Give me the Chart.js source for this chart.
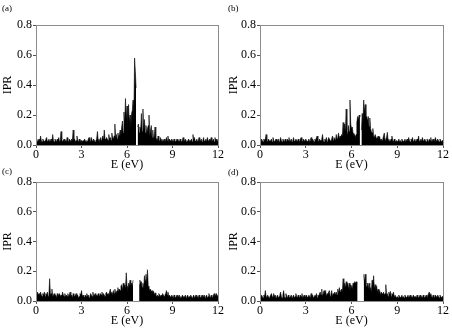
<!DOCTYPE html>
<html>
<head>
<meta charset="utf-8">
<script src="https://cdn.jsdelivr.net/npm/chart.js@4.4.0/dist/chart.umd.min.js"></script>
<style>
  body { margin: 0; background: #fff; width: 452px; height: 331px; position: relative; overflow: hidden; font-family: "Liberation Serif", "Times New Roman", serif; }
  canvas { position: absolute; }
  .tag { position: absolute; font-size: 9px; color: #000; }
</style>
</head>
<body>
<canvas id="pa" width="226" height="172" style="left:0;top:0"></canvas>
<canvas id="pb" width="226" height="172" style="left:226px;top:0"></canvas>
<canvas id="pc" width="226" height="163" style="left:0;top:165px"></canvas>
<canvas id="pd" width="226" height="163" style="left:226px;top:165px"></canvas>
<div class="tag" style="left:2px;top:3px">(a)</div>
<div class="tag" style="left:228px;top:3px">(b)</div>
<div class="tag" style="left:2px;top:166px">(c)</div>
<div class="tag" style="left:228px;top:167px">(d)</div>
<script>
// energy grid, 0 .. 12 eV in 0.05 eV steps (241 points)
const energies = [];
for (let i = 0; i <= 240; i++) energies.push(+(i * 0.05).toFixed(2));

const xTicks = [0, 3, 6, 9, 12];
const yTicks = [0.0, 0.2, 0.4, 0.6, 0.8];

// IPR values, one row per eV, null = gap
const iprA = [
  0.03,0.04,0.02,0.03,0.04,0.02,0.06,0.03,0.02,0.04,0.03,0.02,0.03,0.04,0.05,0.02,0.03,0.04,0.02,0.03,
  0.04,0.02,0.07,0.03,0.02,0.04,0.03,0.02,0.04,0.03,0.05,0.02,0.03,0.09,0.04,0.02,0.03,0.04,0.02,0.03,
  0.02,0.05,0.03,0.02,0.04,0.03,0.02,0.04,0.03,0.10,0.03,0.04,0.02,0.03,0.06,0.03,0.02,0.04,0.02,0.03,
  0.03,0.02,0.03,0.02,0.04,0.03,0.02,0.03,0.02,0.04,0.05,0.03,0.02,0.05,0.03,0.02,0.04,0.03,0.02,0.03,
  0.04,0.09,0.03,0.04,0.02,0.05,0.03,0.04,0.06,0.03,0.10,0.04,0.03,0.05,0.04,0.03,0.07,0.04,0.05,0.03,
  0.08,0.05,0.04,0.06,0.14,0.05,0.07,0.04,0.08,0.05,0.07,0.10,0.06,0.12,0.16,0.08,0.22,0.14,0.31,0.17,
  0.26,0.12,0.27,0.15,0.20,0.11,0.21,0.23,0.30,0.18,0.58,0.49,0.38,null,0.12,0.14,0.08,0.12,0.10,0.21,
  0.09,0.24,0.10,0.17,0.08,0.13,0.07,0.11,0.13,0.20,0.06,0.10,0.13,0.05,0.10,0.04,0.06,0.12,0.05,0.04,
  0.03,0.06,0.04,0.02,0.05,0.03,0.04,0.02,0.03,0.04,0.02,0.03,0.05,0.03,0.06,0.02,0.04,0.03,0.02,0.04,
  0.03,0.02,0.04,0.03,0.02,0.03,0.04,0.02,0.03,0.02,0.04,0.03,0.02,0.03,0.05,0.02,0.03,0.04,0.02,0.03,
  0.02,0.04,0.03,0.02,0.03,0.04,0.02,0.07,0.03,0.05,0.02,0.03,0.04,0.02,0.03,0.05,0.02,0.03,0.04,0.02,
  0.03,0.05,0.02,0.03,0.04,0.02,0.05,0.03,0.02,0.04,0.03,0.05,0.02,0.03,0.04,0.02,0.05,0.03,0.04,0.02,
  0.04
];
const iprB = [
  0.03,0.02,0.04,0.03,0.02,0.04,0.03,0.04,0.07,0.03,0.02,0.04,0.03,0.02,0.03,0.04,0.02,0.05,0.03,0.02,
  0.03,0.04,0.02,0.03,0.04,0.02,0.03,0.05,0.03,0.02,0.04,0.03,0.02,0.04,0.03,0.02,0.04,0.03,0.05,0.02,
  0.03,0.04,0.02,0.03,0.05,0.02,0.03,0.04,0.03,0.02,0.04,0.03,0.02,0.04,0.05,0.03,0.02,0.04,0.03,0.02,
  0.04,0.03,0.02,0.03,0.04,0.02,0.03,0.05,0.02,0.04,0.03,0.02,0.04,0.03,0.05,0.06,0.03,0.02,0.04,0.03,
  0.03,0.04,0.07,0.03,0.02,0.04,0.03,0.05,0.02,0.03,0.05,0.04,0.03,0.02,0.04,0.06,0.03,0.05,0.04,0.03,
  0.07,0.04,0.05,0.08,0.04,0.06,0.05,0.07,0.06,0.15,0.08,0.14,0.09,0.24,0.10,0.06,0.13,0.09,0.30,0.14,
  0.11,0.12,0.08,0.06,0.07,0.05,0.07,0.15,0.19,0.17,0.20,0.19,null,0.10,0.21,0.14,0.30,0.22,0.27,0.18,
  0.19,0.16,0.19,0.12,0.18,0.11,0.09,0.08,0.11,0.06,0.05,0.07,0.07,0.04,0.05,0.06,0.04,0.055,0.03,0.04,
  0.03,0.04,0.06,0.08,0.03,0.04,0.05,0.085,0.03,0.04,0.02,0.03,0.04,0.06,0.03,0.02,0.04,0.03,0.02,0.03,
  0.02,0.03,0.04,0.02,0.03,0.02,0.04,0.03,0.02,0.03,0.04,0.02,0.03,0.04,0.02,0.05,0.03,0.02,0.04,0.03,
  0.05,0.02,0.03,0.04,0.02,0.03,0.04,0.03,0.06,0.02,0.03,0.04,0.02,0.05,0.03,0.02,0.04,0.03,0.02,0.04,
  0.03,0.02,0.04,0.03,0.05,0.02,0.03,0.04,0.02,0.03,0.05,0.03,0.02,0.04,0.03,0.02,0.04,0.03,0.02,0.03,
  0.03
];
const iprC = [
  0.05,0.03,0.06,0.04,0.05,0.03,0.06,0.04,0.03,0.05,0.04,0.06,0.03,0.05,0.04,0.06,0.03,0.04,0.15,0.04,
  0.05,0.08,0.03,0.04,0.05,0.03,0.04,0.02,0.05,0.03,0.04,0.05,0.03,0.04,0.03,0.06,0.04,0.03,0.05,0.03,
  0.04,0.03,0.05,0.03,0.04,0.06,0.03,0.04,0.02,0.05,0.04,0.03,0.04,0.05,0.03,0.04,0.02,0.03,0.05,0.04,
  0.07,0.03,0.04,0.03,0.02,0.04,0.03,0.05,0.03,0.04,0.02,0.03,0.05,0.04,0.03,0.06,0.03,0.04,0.05,0.03,
  0.04,0.03,0.05,0.04,0.03,0.05,0.04,0.06,0.03,0.05,0.04,0.03,0.05,0.06,0.04,0.05,0.03,0.06,0.08,0.05,
  0.06,0.04,0.07,0.05,0.08,0.05,0.06,0.07,0.09,0.06,0.08,0.07,0.10,0.11,0.07,0.12,0.09,0.11,0.08,0.19,
  0.10,0.06,0.12,0.10,0.14,0.11,0.12,0.10,0.14,null,null,null,null,null,null,null,0.11,0.14,0.12,0.13,
  0.09,0.12,0.08,0.17,0.14,0.18,0.12,0.21,0.10,0.09,0.07,0.08,0.06,0.07,0.05,0.065,0.04,0.055,0.04,0.03,
  0.04,0.03,0.05,0.04,0.03,0.04,0.03,0.05,0.04,0.03,0.04,0.05,0.07,0.04,0.06,0.03,0.04,0.03,0.02,0.04,
  0.03,0.02,0.04,0.03,0.02,0.03,0.04,0.02,0.03,0.04,0.02,0.03,0.02,0.04,0.03,0.02,0.03,0.04,0.02,0.03,
  0.04,0.02,0.03,0.02,0.04,0.03,0.02,0.03,0.04,0.02,0.03,0.04,0.02,0.03,0.02,0.04,0.03,0.02,0.03,0.04,
  0.02,0.03,0.04,0.02,0.03,0.04,0.02,0.03,0.05,0.03,0.02,0.04,0.03,0.02,0.04,0.05,0.03,0.04,0.05,0.03,
  0.04
];
const iprD = [
  0.03,0.02,0.04,0.03,0.02,0.04,0.03,0.07,0.03,0.02,0.04,0.03,0.02,0.03,0.04,0.05,0.03,0.02,0.05,0.03,
  0.04,0.02,0.03,0.04,0.02,0.03,0.04,0.06,0.03,0.02,0.04,0.07,0.03,0.02,0.05,0.03,0.02,0.04,0.03,0.02,
  0.03,0.04,0.02,0.03,0.04,0.02,0.03,0.05,0.03,0.02,0.04,0.03,0.02,0.04,0.03,0.05,0.02,0.03,0.04,0.02,
  0.03,0.04,0.02,0.03,0.04,0.03,0.02,0.05,0.03,0.04,0.02,0.03,0.04,0.03,0.05,0.02,0.04,0.03,0.05,0.06,
  0.04,0.08,0.03,0.05,0.07,0.04,0.07,0.03,0.05,0.04,0.06,0.07,0.03,0.04,0.07,0.03,0.05,0.04,0.06,0.04,
  0.06,0.04,0.08,0.05,0.09,0.06,0.07,0.08,0.06,0.15,0.08,0.12,0.09,0.13,0.10,0.12,0.08,0.12,0.07,0.11,
  0.10,0.08,0.12,0.11,0.13,0.12,0.13,0.12,0.12,null,null,null,null,null,null,null,0.18,0.13,0.18,0.11,
  0.09,0.12,0.08,0.12,0.07,0.09,0.06,0.14,0.10,0.17,0.08,0.11,0.07,0.10,0.06,0.08,0.05,0.07,0.04,0.06,
  0.05,0.04,0.06,0.04,0.05,0.11,0.04,0.05,0.03,0.06,0.04,0.065,0.03,0.05,0.04,0.06,0.03,0.04,0.03,0.02,
  0.03,0.02,0.04,0.03,0.02,0.03,0.04,0.02,0.03,0.02,0.04,0.03,0.02,0.03,0.04,0.02,0.03,0.04,0.02,0.03,
  0.02,0.04,0.03,0.02,0.03,0.02,0.04,0.03,0.02,0.03,0.04,0.02,0.03,0.02,0.04,0.03,0.02,0.03,0.04,0.02,
  0.03,0.05,0.06,0.04,0.05,0.03,0.02,0.04,0.03,0.02,0.04,0.03,0.02,0.04,0.03,0.02,0.04,0.03,0.02,0.03,
  0.03
];

Chart.defaults.font.family = '"Liberation Serif", "Times New Roman", serif';
Chart.defaults.font.size = 12;
Chart.defaults.color = '#000';

// gray box round the plot area
const frame = {
  id: 'frame',
  afterDraw(chart) {
    const { ctx, chartArea: a } = chart;
    ctx.save();
    ctx.strokeStyle = '#8c8c8c';
    ctx.lineWidth = 1;
    ctx.strokeRect(Math.round(a.left) + 0.5, Math.round(a.top) + 0.5, Math.round(a.width), Math.round(a.height));
    ctx.restore();
  }
};

function makePanel(id, values, yWidth, padTop, padRight) {
  const pts = energies.map((e, i) => ({ x: e, y: values[i] }));
  return new Chart(document.getElementById(id), {
    type: 'line',
    data: {
      datasets: [{
        data: pts,
        borderColor: '#000',
        backgroundColor: '#000',
        borderWidth: 0.6,
        pointRadius: 0,
        tension: 0,
        fill: 'origin',
        spanGaps: false
      }]
    },
    options: {
      responsive: false,
      animation: false,
      devicePixelRatio: 1,
      layout: { padding: { top: padTop, right: padRight, left: 0, bottom: 0 } },
      plugins: { legend: { display: false }, tooltip: { enabled: false } },
      scales: {
        x: {
          type: 'linear',
          min: 0,
          max: 12,
          afterBuildTicks: s => { s.ticks = xTicks.map(v => ({ value: v })); },
          afterFit: s => { s.height = 27; },
          grid: { drawOnChartArea: false, tickLength: 3, color: '#555' },
          border: { display: false },
          ticks: { padding: 0, maxRotation: 0 },
          title: { display: true, text: 'E (eV)', padding: 0 }
        },
        y: {
          min: 0,
          max: 0.8,
          afterBuildTicks: s => { s.ticks = yTicks.map(v => ({ value: v })); },
          afterFit: s => { s.width = yWidth; },
          grid: { drawOnChartArea: false, tickLength: 3, color: '#555' },
          border: { display: false },
          ticks: { padding: 1, callback: v => v.toFixed(1) },
          title: { display: true, text: 'IPR', padding: 1 }
        }
      }
    },
    plugins: [frame]
  });
}

makePanel('pa', iprA, 36, 25, 8);
makePanel('pb', iprB, 34, 25, 9);
makePanel('pc', iprC, 36, 17, 8);
makePanel('pd', iprD, 34, 17, 9);
</script>
</body>
</html>
